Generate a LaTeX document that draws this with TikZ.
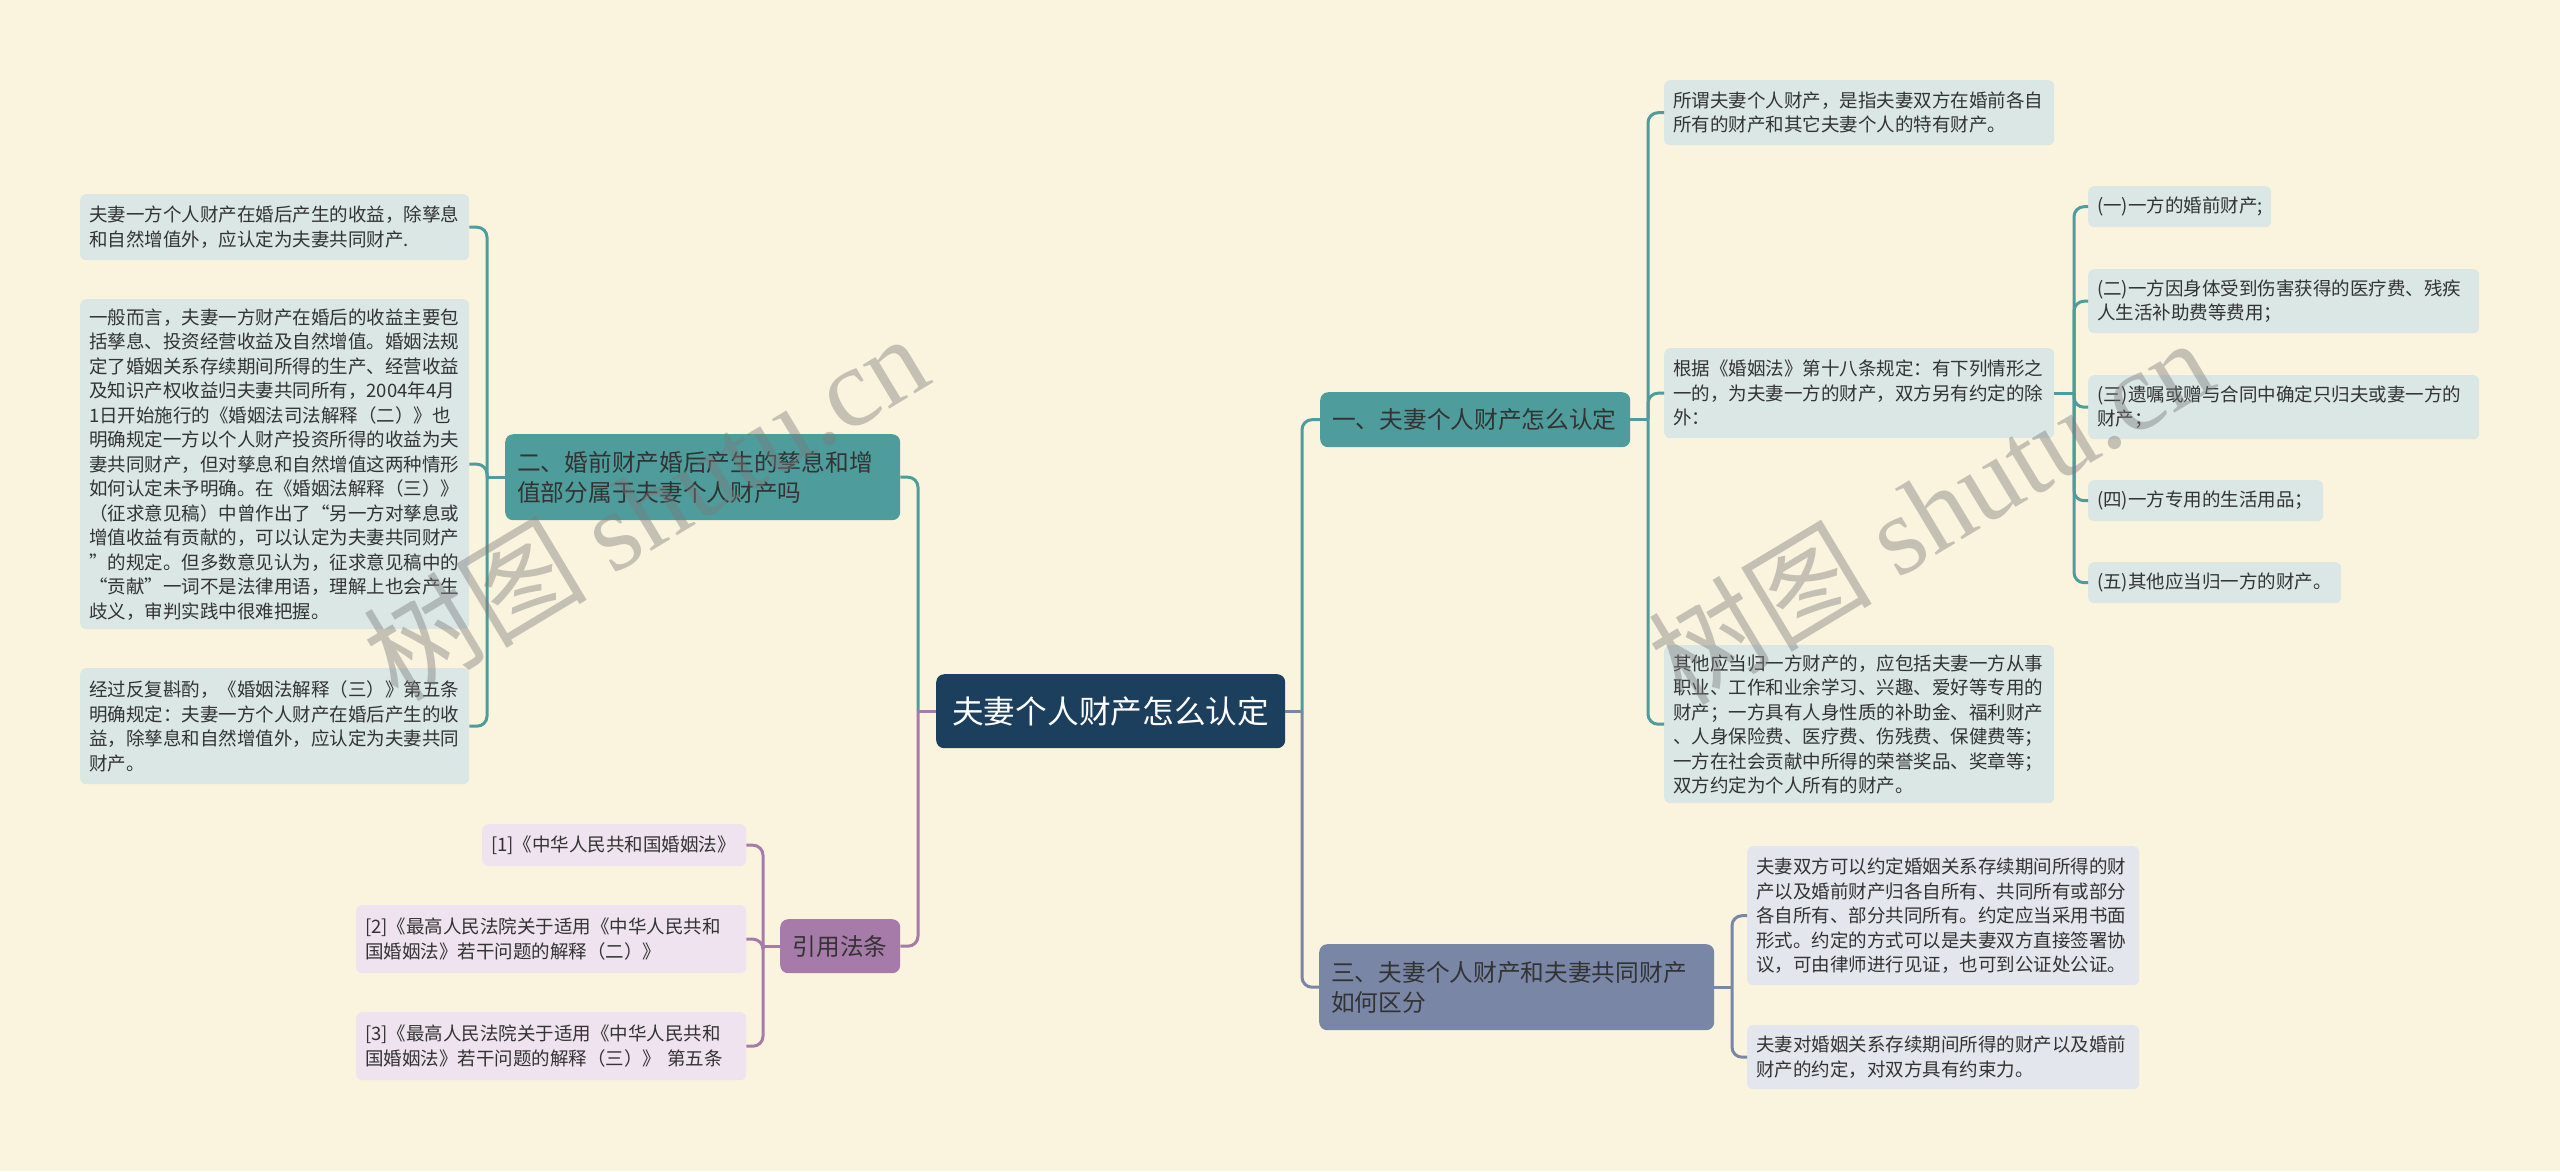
\documentclass[tikz,border=0pt]{standalone}
\usepackage{fontspec}
\setmainfont{Noto Sans CJK SC}
\newfontfamily\wmlatin{Liberation Serif}
\usetikzlibrary{calc}
\definecolor{bgc}{HTML}{FAF4DF}
\definecolor{rootc}{HTML}{1B3F5D}
\definecolor{tealc}{HTML}{4E9C9B}
\definecolor{purpc}{HTML}{A77BA9}
\definecolor{slatec}{HTML}{7A86A6}
\definecolor{tealleaf}{HTML}{DAE7E5}
\definecolor{purpleaf}{HTML}{EEE3EE}
\definecolor{slateleaf}{HTML}{E3E6EC}
\definecolor{txt}{HTML}{333333}
\definecolor{wmc}{HTML}{7A7A7A}
\tikzset{
  leafbox/.style={anchor=north west, rounded corners=6pt, inner xsep=9pt, inner ysep=0pt, align=left, text=txt, font=\fontsize{18.5}{24.5}\selectfont},
  tleaf/.style={leafbox, fill=tealleaf},
  pleaf/.style={leafbox, fill=purpleaf},
  sleaf/.style={leafbox, fill=slateleaf},
  branchbox/.style={anchor=north west, rounded corners=8pt, inner xsep=12pt, inner ysep=0pt, align=left, text=txt, font=\fontsize{23.7}{30}\selectfont},
  conn/.style={line width=3pt, rounded corners=10pt},
  watermark/.style={rotate=31, text=wmc, opacity=0.42, font=\fontsize{112}{112}\selectfont},
}
\begin{document}
\begin{tikzpicture}[x=1pt,y=-1pt]
\fill[bgc] (0,0) rectangle (2560,1171);
\useasboundingbox (0,0) rectangle (2560,1171);

% root and main branches
\node[anchor=north west, fill=rootc, rounded corners=8pt, minimum width=349pt, minimum height=74pt, inner sep=0pt, text=white, font=\fontsize{31.7}{36}\selectfont] (root) at (936,674) {夫妻个人财产怎么认定};
\node[branchbox, fill=tealc, text width=286pt, minimum height=55pt] (b1) at (1320,392) {一、夫妻个人财产怎么认定};
\node[branchbox, fill=tealc, text width=371pt, minimum height=86pt] (b2) at (505,434) {二、婚前财产婚后产生的孳息和增\\值部分属于夫妻个人财产吗};
\node[branchbox, fill=purpc, text width=96pt, align=center, minimum height=54pt] (b3) at (780,919) {引用法条};
\node[branchbox, fill=slatec, text width=371pt, minimum height=86pt] (b4) at (1319,944) {三、夫妻个人财产和夫妻共同财产\\如何区分};

% left leaves
\node[tleaf, text width=371pt, minimum height=66pt] (L1) at (80,194) {夫妻一方个人财产在婚后产生的收益，除孳息\\和自然增值外，应认定为夫妻共同财产.};
\node[tleaf, text width=371pt, minimum height=330pt] (L2) at (80,299) {一般而言，夫妻一方财产在婚后的收益主要包\\括孳息、投资经营收益及自然增值。婚姻法规\\定了婚姻关系存续期间所得的生产、经营收益\\及知识产权收益归夫妻共同所有，2004年4月\\1日开始施行的《婚姻法司法解释（二）》也\\明确规定一方以个人财产投资所得的收益为夫\\妻共同财产，但对孳息和自然增值这两种情形\\如何认定未予明确。在《婚姻法解释（三）》\\（征求意见稿）中曾作出了“另一方对孳息或\\增值收益有贡献的，可以认定为夫妻共同财产\\”的规定。但多数意见认为，征求意见稿中的\\“贡献”一词不是法律用语，理解上也会产生\\歧义，审判实践中很难把握。};
\node[tleaf, text width=371pt, minimum height=116pt] (L3) at (80,668) {经过反复斟酌，《婚姻法解释（三）》第五条\\明确规定：夫妻一方个人财产在婚后产生的收\\益，除孳息和自然增值外，应认定为夫妻共同\\财产。};

% citations
\node[pleaf, text width=246pt, minimum height=42pt] (C1) at (482,824) {[1]《中华人民共和国婚姻法》};
\node[pleaf, text width=372pt, minimum height=68pt] (C2) at (356,905) {[2]《最高人民法院关于适用《中华人民共和\\国婚姻法》若干问题的解释（二）》};
\node[pleaf, text width=372pt, minimum height=68pt] (C3) at (356,1012) {[3]《最高人民法院关于适用《中华人民共和\\国婚姻法》若干问题的解释（三）》 第五条};

% right leaves of branch 1
\node[tleaf, text width=372pt, minimum height=65pt] (R1) at (1664,80) {所谓夫妻个人财产，是指夫妻双方在婚前各自\\所有的财产和其它夫妻个人的特有财产。};
\node[tleaf, text width=372pt, minimum height=90pt] (R2) at (1664,348) {根据《婚姻法》第十八条规定：有下列情形之\\一的，为夫妻一方的财产，双方另有约定的除\\外：};
\node[tleaf, text width=372pt, minimum height=158pt] (R3) at (1664,645) {其他应当归一方财产的，应包括夫妻一方从事\\职业、工作和业余学习、兴趣、爱好等专用的\\财产；一方具有人身性质的补助金、福利财产\\、人身保险费、医疗费、伤残费、保健费等；\\一方在社会贡献中所得的荣誉奖品、奖章等；\\双方约定为个人所有的财产。};

\node[tleaf, text width=165pt, minimum height=41pt] (S1) at (2088,186) {(一)一方的婚前财产;};
\node[tleaf, text width=373pt, minimum height=64pt] (S2) at (2088,269) {(二)一方因身体受到伤害获得的医疗费、残疾\\人生活补助费等费用；};
\node[tleaf, text width=373pt, minimum height=64pt] (S3) at (2088,375) {(三)遗嘱或赠与合同中确定只归夫或妻一方的\\财产；};
\node[tleaf, text width=217pt, minimum height=41pt] (S4) at (2088,480) {(四)一方专用的生活用品；};
\node[tleaf, text width=235pt, minimum height=41pt] (S5) at (2088,562) {(五)其他应当归一方的财产。};

% leaves of branch 3
\node[sleaf, text width=374pt, minimum height=139pt] (T1) at (1747,846) {夫妻双方可以约定婚姻关系存续期间所得的财\\产以及婚前财产归各自所有、共同所有或部分\\各自所有、部分共同所有。约定应当采用书面\\形式。约定的方式可以是夫妻双方直接签署协\\议，可由律师进行见证，也可到公证处公证。};
\node[sleaf, text width=374pt, minimum height=64pt] (T2) at (1747,1025) {夫妻对婚姻关系存续期间所得的财产以及婚前\\财产的约定，对双方具有约束力。};

% junction coordinates
\coordinate (vr) at (1302,711);
\coordinate (vl) at (918,711);
\coordinate (v1) at (1648,419);
\coordinate (v2) at (487,477);
\coordinate (v3) at (763,946);
\coordinate (v4) at (1732,986);
\coordinate (v5) at (2074,393);

% root connectors
\draw[conn, tealc] (root.east -| vr) |- (b1.west);
\draw[conn, slatec] (root.east -| vr) |- (b4.west);
\draw[conn, slatec] (root.east) -- (root.east -| vr);
\draw[conn, tealc] (root.west -| vl) |- (b2.east);
\draw[conn, purpc] (root.west -| vl) |- (b3.east);
\draw[conn, purpc] (root.west) -- (root.west -| vl);

% branch 1
\draw[conn, tealc] (b1.east) -- (b1.east -| v1);
\draw[conn, tealc] (b1.east -| v1) |- (R1.west);
\draw[conn, tealc] (b1.east -| v1) |- (R2.west);
\draw[conn, tealc] (b1.east -| v1) |- (R3.west);
% sub-branch R2
\draw[conn, tealc] (R2.east) -- (R2.east -| v5);
\foreach \s in {S1,S2,S3,S4,S5} \draw[conn, tealc] (R2.east -| v5) |- (\s.west);
% branch 2
\draw[conn, tealc] (b2.west) -- (b2.west -| v2);
\foreach \s in {L1,L2,L3} \draw[conn, tealc] (b2.west -| v2) |- (\s.east);
% citations
\draw[conn, purpc] (b3.west) -- (b3.west -| v3);
\foreach \s in {C1,C2,C3} \draw[conn, purpc] (b3.west -| v3) |- (\s.east);
% branch 3
\draw[conn, slatec] (b4.east) -- (b4.east -| v4);
\foreach \s in {T1,T2} \draw[conn, slatec] (b4.east -| v4) |- (\s.west);

% watermarks
\node[watermark] (wm1) at (645,506) {树图 {\wmlatin shutu.cn}};
\node[watermark] (wm2) at (1930,510) {树图 {\wmlatin shutu.cn}};
\end{tikzpicture}
\end{document}
